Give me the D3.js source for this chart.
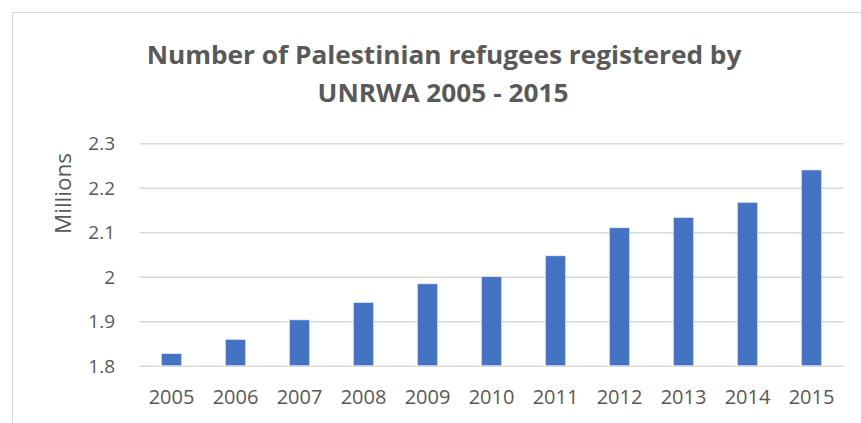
<!DOCTYPE html>
<html>
<head>
<meta charset="utf-8">
<script src="https://cdn.jsdelivr.net/npm/d3@7"></script>
<style>
  html, body { margin: 0; padding: 0; background: #fff; }
  svg { display: block; }
</style>
</head>
<body>
<svg id="chart" width="861" height="423"></svg>
<script>
const years = ["2005","2006","2007","2008","2009","2010","2011","2012","2013","2014","2015"];
const refugees = [1.827, 1.859, 1.903, 1.942, 1.984, 2.000, 2.047, 2.110, 2.133, 2.167, 2.240];
const yTicks = [1.8, 1.9, 2.0, 2.1, 2.2, 2.3];
const titleLines = ["Number of Palestinian refugees registered by", "UNRWA 2005 - 2015"];
const yAxisTitle = "Millions";

const svg = d3.select("#chart");
const textColor = "#595959";
const font = "'Open Sans', 'Liberation Sans', sans-serif";

// chart border
svg.append("rect")
  .attr("x", 12.5).attr("y", 12.5)
  .attr("width", 870).attr("height", 430)
  .attr("fill", "#fff").attr("stroke", "#d9d9d9").attr("stroke-width", 1);

const plot = { left: 139.5, right: 843.5, top: 143.3, bottom: 365.7 };

const x = d3.scaleBand().domain(years).range([plot.left, plot.right])
  .paddingInner(0.685).paddingOuter(0.3425);
const y = d3.scaleLinear().domain([1.8, 2.3]).range([plot.bottom, plot.top]);

// gridlines
const yAxis = d3.axisLeft(y).tickValues(yTicks)
  .tickSize(-(plot.right - plot.left))
  .tickFormat(d => d3.format("~g")(d));
const gy = svg.append("g").attr("transform", `translate(${plot.left},0)`).call(yAxis);
gy.select(".domain").remove();
gy.selectAll(".tick line").attr("stroke", "#d9d9d9").attr("stroke-width", 1.5);
gy.selectAll(".tick text")
  .attr("x", -24.5).attr("dy", "0.35em")
  .attr("fill", textColor).style("font-family", font).style("font-size", "19px");

// bars
svg.append("g").selectAll("rect").data(refugees).join("rect")
  .attr("x", (d, i) => x(years[i]))
  .attr("width", x.bandwidth())
  .attr("y", d => y(d))
  .attr("height", d => y(1.8) - y(d))
  .attr("fill", "#4472C4")
  .attr("stroke", "#e6ecf7").attr("stroke-width", 0.6);

// x axis labels
const xAxis = d3.axisBottom(x).tickSize(0).tickPadding(0);
const gx = svg.append("g").attr("transform", `translate(0,${plot.bottom})`).call(xAxis);
gx.select(".domain").remove();
gx.selectAll(".tick text")
  .attr("y", 38).attr("dy", 0)
  .attr("fill", textColor).style("font-family", font).style("font-size", "20px");

// y axis title
svg.append("text")
  .attr("transform", "translate(71,193.5) rotate(-90)")
  .attr("text-anchor", "middle")
  .attr("fill", textColor).style("font-family", font).style("font-size", "22.5px")
  .text(yAxisTitle);

// title (horizontally condensed to mimic the narrow original face)
const fs = 25.5;
const t1 = svg.append("text")
  .attr("text-anchor", "middle")
  .attr("fill", textColor).style("font-family", font).style("font-weight", 700)
  .style("font-size", fs + "px").text(titleLines[0]);
const sx = 595 / t1.node().getComputedTextLength();
t1.attr("transform", `translate(444,63.5) scale(${sx},1)`);
svg.append("text")
  .attr("transform", `translate(443,101.5) scale(${sx},1)`)
  .attr("text-anchor", "middle")
  .attr("fill", textColor).style("font-family", font).style("font-weight", 700)
  .style("font-size", fs + "px").text(titleLines[1]);
</script>
</body>
</html>
